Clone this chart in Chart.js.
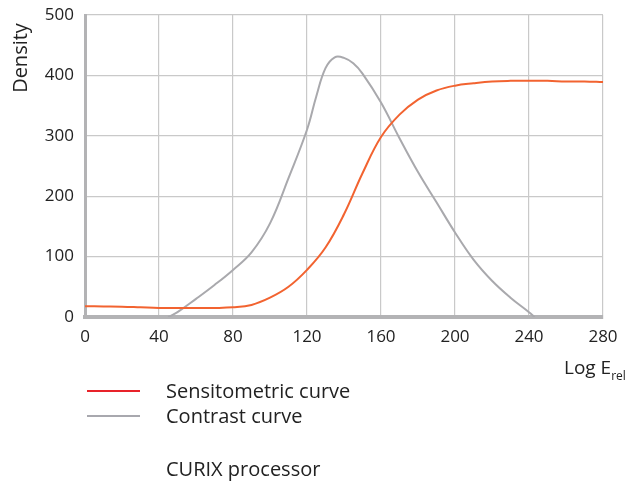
<!DOCTYPE html>
<html>
<head>
<meta charset="utf-8">
<script src="https://cdn.jsdelivr.net/npm/chart.js@4/dist/chart.umd.min.js"></script>
<style>
    html, body { margin: 0; padding: 0; background: #fff; }
    #wrap { width: 644px; height: 491px; position: relative; }
</style>
</head>
<body>
<div id="wrap"><canvas id="densityChart"></canvas></div>
<script>
// x ticks / y ticks
const xTicks = [0, 40, 80, 120, 160, 200, 240, 280];
const yTicks = [0, 100, 200, 300, 400, 500];

// Sensitometric curve
const sensX = [0, 10, 20, 30, 40, 50, 60, 70, 80, 90, 100, 110, 120, 130, 140, 150, 160, 170, 180, 190, 200, 210, 220, 230, 240, 250, 260, 270, 280];
const sensY = [18, 17.5, 17, 16, 15, 15, 15, 15, 16, 20, 32, 50, 78, 115, 170, 238, 298, 335, 360, 375, 383, 387, 390, 391, 391, 391, 390, 390, 389];

// Contrast curve
const contX = [45, 50, 60, 70, 80, 90, 100, 110, 120, 125, 130, 135, 140, 145, 150, 160, 170, 180, 190, 200, 210, 220, 230, 240, 243];
const contY = [0, 8, 30, 53, 78, 107, 155, 230, 310, 365, 412, 430, 429, 420, 403, 355, 296, 240, 190, 140, 95, 60, 32, 8, 0];

const toPoints = (xs, ys) => xs.map((x, i) => ({ x: x, y: ys[i] }));

const FONT = '"Open Sans", "Noto Sans", sans-serif';

const extraText = {
    id: 'extraText',
    afterDraw(chart) {
        const ctx = chart.ctx;
        ctx.save();
        ctx.fillStyle = '#222';
        ctx.textBaseline = 'middle';

        // y axis title near the top
        ctx.save();
        ctx.translate(21, 58);
        ctx.rotate(-Math.PI / 2);
        ctx.textAlign = 'center';
        ctx.font = '20px ' + FONT;
        ctx.fillText('Density', 0, 0);
        ctx.restore();

        // x axis title with subscript
        ctx.textAlign = 'left';
        ctx.font = '19px ' + FONT;
        ctx.fillText('Log E', 564, 369);
        const w = ctx.measureText('Log E').width;
        ctx.font = '12px ' + FONT;
        ctx.fillText('rel', 564 + w, 377);

        // legend
        ctx.lineWidth = 2;
        ctx.strokeStyle = '#e8232a';
        ctx.beginPath(); ctx.moveTo(87, 391); ctx.lineTo(140, 391); ctx.stroke();
        ctx.strokeStyle = '#a8a8ae';
        ctx.beginPath(); ctx.moveTo(87, 416); ctx.lineTo(140, 416); ctx.stroke();

        ctx.font = '20px ' + FONT;
        ctx.fillText('Sensitometric curve', 166, 392);
        ctx.fillText('Contrast curve', 166, 417);
        ctx.fillText('CURIX processor', 166, 470);
        ctx.restore();
    }
};

document.addEventListener('DOMContentLoaded', function() {
    const ctx = document.getElementById('densityChart').getContext('2d');
    window.densityChart = new Chart(ctx, {
        type: 'line',
        data: {
            datasets: [{
                label: 'Sensitometric curve',
                data: toPoints(sensX, sensY),
                borderColor: '#f26330',
                borderWidth: 2,
                pointRadius: 0,
                tension: 0.4,
                fill: false
            }, {
                label: 'Contrast curve',
                data: toPoints(contX, contY),
                borderColor: '#a9a9ad',
                borderWidth: 2,
                pointRadius: 0,
                tension: 0.4,
                fill: false
            }]
        },
        options: {
            responsive: true,
            maintainAspectRatio: false,
            animation: false,
            layout: { padding: { top: 15, right: 41, left: 0, bottom: 0 } },
            plugins: {
                legend: { display: false },
                tooltip: { enabled: false }
            },
            scales: {
                x: {
                    type: 'linear',
                    min: 0,
                    max: 280,
                    afterBuildTicks: function(scale) {
                        scale.ticks = xTicks.map(v => ({ value: v }));
                    },
                    afterFit: function(scale) {
                        scale.height = 174;
                        scale.paddingLeft = 0;
                        scale.paddingRight = 0;
                    },
                    grid: { color: '#c9c9c9', lineWidth: 1.2, drawTicks: false },
                    border: { color: '#b3b3b5', width: 4 },
                    ticks: {
                        padding: 10,
                        color: '#222',
                        font: { family: FONT, size: 17 }
                    }
                },
                y: {
                    min: 0,
                    max: 500,
                    afterBuildTicks: function(scale) {
                        scale.ticks = yTicks.map(v => ({ value: v }));
                    },
                    afterFit: function(scale) {
                        scale.width = 85;
                        scale.paddingTop = 0;
                        scale.paddingBottom = 0;
                    },
                    grid: { color: '#c9c9c9', lineWidth: 1.2, drawTicks: false },
                    border: { color: '#b3b3b5', width: 3 },
                    ticks: {
                        padding: 11,
                        color: '#222',
                        font: { family: FONT, size: 17 }
                    }
                }
            }
        },
        plugins: [extraText]
    });
});
</script>
</body>
</html>
